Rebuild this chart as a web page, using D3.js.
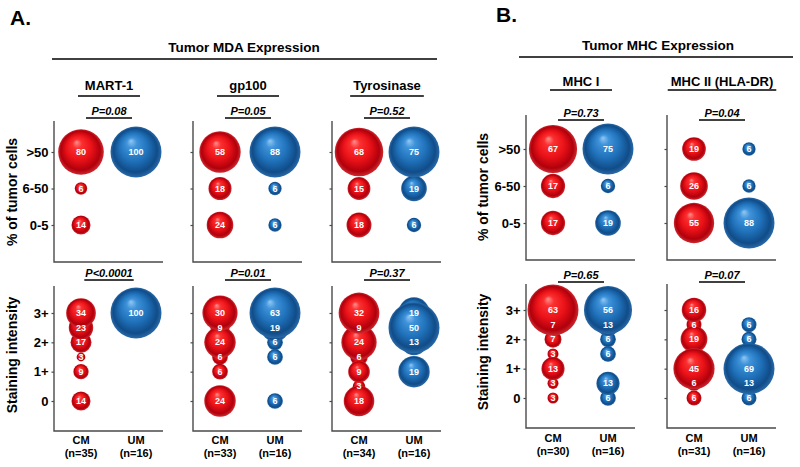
<!DOCTYPE html>
<html><head><meta charset="utf-8">
<script src="https://cdn.jsdelivr.net/npm/d3@7"></script>
<style>body{margin:0;background:#fff}svg{display:block}text{font-family:Arial,"Liberation Sans",Helvetica,sans-serif}</style>
</head><body><svg id="c" width="800" height="467"></svg>
<script>
// ---------------- DATA ----------------
const groups = ["CM", "UM"];
const pctLevels = [">50", "6-50", "0-5"];
const intensityLevels = [3, 2.5, 2, 1.5, 1, 0.5, 0];
const intensityTickValues = [3, 2, 1, 0];
const intensityTickLabels = ["3+", "2+", "1+", "0"];
const markers = ["MART-1", "gp100", "Tyrosinase", "MHC I", "MHC II (HLA-DR)"];
const markerSection = ["A", "A", "A", "B", "B"];
const sectionTitles = ["Tumor MDA Expression", "Tumor MHC Expression"];
const nCM = [35, 33, 34, 30, 31];
const nUM = [16, 16, 16, 16, 16];
const pTop = ["P=0.08", "P=0.05", "P=0.52", "P=0.73", "P=0.04"];
const pBottom = ["P<0.0001", "P=0.01", "P=0.37", "P=0.65", "P=0.07"];
// % of tumor cells (>50, 6-50, 0-5)
const pctCM = [[80, 6, 14], [58, 18, 24], [68, 15, 18], [67, 17, 17], [19, 26, 55]];
const pctUM = [[100, null, null], [88, 6, 6], [75, 19, 6], [75, 6, 19], [6, 6, 88]];
// staining intensity at levels 3, 2.5, 2, 1.5, 1, 0.5, 0
const intCM = [
  [34, 23, 17, 3, 9, null, 14],
  [30, 9, 24, 6, 6, null, 24],
  [32, 9, 24, 6, 9, 3, 18],
  [63, 7, 7, 3, 13, 3, 3],
  [16, 6, 19, null, 45, 6, 6]
];
const intUM = [
  [100, null, null, null, null, null, null],
  [63, 19, 6, 6, null, null, 6],
  [19, 50, 13, null, 19, null, null],
  [56, 13, 6, 6, null, 13, 6],
  [null, 6, 6, null, 69, 13, 6]
];

// ---------------- LAYOUT ----------------
const panelX = [54, 193, 332, 526, 667];
const panelW = 109;
const geom = {
  A: {sub: 90, subLine: 96, pT: 115, pTL: 118, topY: [152, 225], topAxis: [121, 262],
      pB: 277, pBL: 280, botY: [401, 313], botAxis: [286, 431], cmY: 444, nY: 457,
      titleX: 17, yt1: 192, yt2: 355},
  B: {sub: 86, subLine: 90, pT: 117, pTL: 120, topY: [149, 223], topAxis: [115, 260],
      pB: 279, pBL: 282, botY: [398, 310], botAxis: [284, 428], cmY: 442, nY: 455,
      titleX: 488, yt1: 187, yt2: 352}
};
const maxR = 25.5;
const axisColor = "#4a4a4a";

const svg = d3.select("#c");
svg.append("rect").attr("width", 800).attr("height", 467).attr("fill", "#fff");

// gradients
const defs = svg.append("defs");
function grad(id, stops) {
  const g = defs.append("radialGradient").attr("id", id)
    .attr("cx", "50%").attr("cy", "50%").attr("r", "50%")
    .attr("fx", "40%").attr("fy", "28%");
  stops.forEach(s => g.append("stop").attr("offset", s[0]).attr("stop-color", s[1]));
}
grad("gCM", [["0%", "#ff9090"], ["20%", "#fb3030"], ["55%", "#ea1218"], ["86%", "#b0000c"], ["100%", "#cc2a30"]]);
grad("gUM", [["0%", "#92c8f4"], ["20%", "#3f93da"], ["55%", "#2072bb"], ["86%", "#104c88"], ["100%", "#2a6aa8"]]);

// Section headers
svg.append("text").attr("x", 10).attr("y", 25).attr("font-size", 21).attr("font-weight", "bold").text("A.");
svg.append("text").attr("x", 496).attr("y", 22).attr("font-size", 21).attr("font-weight", "bold").text("B.");
svg.append("text").attr("x", 244).attr("y", 52).attr("text-anchor", "middle").attr("font-size", 13.5).attr("font-weight", "bold").text(sectionTitles[0]);
svg.append("line").attr("x1", 52).attr("x2", 437).attr("y1", 59).attr("y2", 59).attr("stroke", "#000").attr("stroke-width", 1.6);
svg.append("text").attr("x", 658).attr("y", 50).attr("text-anchor", "middle").attr("font-size", 13.5).attr("font-weight", "bold").text(sectionTitles[1]);
svg.append("line").attr("x1", 519).attr("x2", 793).attr("y1", 57).attr("y2", 57).attr("stroke", "#000").attr("stroke-width", 1.6);

function underlinedText(x, y, lineY, txt, size, italic, minW, extra) {
  const t = svg.append("text").attr("x", x).attr("y", y).attr("text-anchor", "middle")
    .attr("font-size", size).attr("font-weight", "bold")
    .attr("font-style", italic ? "italic" : "normal").text(txt);
  const w = Math.max(minW, t.node().getComputedTextLength() + extra);
  svg.append("line").attr("x1", x - w / 2).attr("x2", x + w / 2).attr("y1", lineY).attr("y2", lineY)
    .attr("stroke", "#000").attr("stroke-width", 1.6);
}

function bubbles(g, items, rScale) {
  const sorted = items.filter(d => d.v != null && d.v > 0).sort((a, b) => a.v - b.v);
  g.selectAll("circle.b").data(sorted).join("circle").attr("class", "b")
    .attr("cx", d => d.x).attr("cy", d => d.y).attr("r", d => rScale(d.v))
    .attr("fill", d => d.g === "CM" ? "url(#gCM)" : "url(#gUM)");
  g.selectAll("text.b").data(sorted).join("text").attr("class", "b")
    .attr("x", d => d.x).attr("y", d => d.y).attr("dy", "0.35em")
    .attr("text-anchor", "middle").attr("font-size", 9).attr("font-weight", "bold")
    .attr("fill", "#fff").text(d => d.v);
}

function styleAxis(ax, showLabels) {
  ax.select(".domain").remove();
  ax.selectAll("line").attr("stroke", axisColor).attr("stroke-width", 1.2);
  if (!showLabels) ax.selectAll("text").remove();
  else ax.selectAll("text").attr("font-size", 13).attr("font-weight", "bold")
    .attr("fill", "#000").style("font-family", "Arial, 'Liberation Sans', sans-serif");
}

markers.forEach((m, i) => {
  const sec = markerSection[i];
  const G = geom[sec];
  const x0 = panelX[i];
  const cx = x0 + 55;
  const first = (i === 0 || i === 3);
  const x = d3.scalePoint().domain(groups).range([x0 + 27, x0 + 82]);

  underlinedText(cx, G.sub, G.subLine, m, 13, false, 62, 6);
  underlinedText(cx, G.pT, G.pTL, pTop[i], 11, true, 46, 4);
  underlinedText(cx, G.pB, G.pBL, pBottom[i], 11, true, 46, 2);

  // ---- top panel: % of tumor cells
  const yTop = d3.scalePoint().domain(pctLevels).range(G.topY);
  const gT = svg.append("g");
  const axT = gT.append("g").attr("transform", `translate(${x0},0)`)
    .call(d3.axisLeft(yTop).tickSize(2.5).tickPadding(3));
  styleAxis(axT, first);
  gT.append("path").attr("d", `M${x0},${G.topAxis[0]}V${G.topAxis[1]}H${x0 + panelW}`)
    .attr("fill", "none").attr("stroke", axisColor).attr("stroke-width", 1.4);
  const topItems = [];
  pctLevels.forEach((lv, j) => {
    topItems.push({g: "CM", v: pctCM[i][j], x: x("CM"), y: yTop(lv)});
    topItems.push({g: "UM", v: pctUM[i][j], x: x("UM"), y: yTop(lv)});
  });
  const maxT = d3.max(topItems, d => d.v);
  bubbles(gT, topItems, d3.scaleSqrt().domain([0, maxT]).range([0, maxR]));

  // ---- bottom panel: staining intensity
  const yBot = d3.scaleLinear().domain([0, 3]).range(G.botY);
  const gB = svg.append("g");
  const axB = gB.append("g").attr("transform", `translate(${x0},0)`)
    .call(d3.axisLeft(yBot).tickValues(intensityTickValues)
      .tickFormat((d, k) => intensityTickLabels[k]).tickSize(2.5).tickPadding(3));
  styleAxis(axB, first);
  gB.append("path").attr("d", `M${x0},${G.botAxis[0]}V${G.botAxis[1]}H${x0 + panelW}`)
    .attr("fill", "none").attr("stroke", axisColor).attr("stroke-width", 1.4);
  const botItems = [];
  intensityLevels.forEach((lv, j) => {
    botItems.push({g: "CM", v: intCM[i][j], x: x("CM"), y: yBot(lv)});
    botItems.push({g: "UM", v: intUM[i][j], x: x("UM"), y: yBot(lv)});
  });
  const maxB = d3.max(botItems, d => d.v);
  bubbles(gB, botItems, d3.scaleSqrt().domain([0, maxB]).range([0, maxR]));

  // x labels
  groups.forEach(gr => {
    svg.append("text").attr("x", x(gr)).attr("y", G.cmY).attr("text-anchor", "middle")
      .attr("font-size", 11).attr("font-weight", "bold").text(gr);
    svg.append("text").attr("x", x(gr)).attr("y", G.nY).attr("text-anchor", "middle")
      .attr("font-size", 11).attr("font-weight", "bold")
      .text(`(n=${gr === "CM" ? nCM[i] : nUM[i]})`);
  });

  // y titles for first panel of each section
  if (first) {
    svg.append("text").attr("transform", `translate(${G.titleX},${G.yt1}) rotate(-90)`)
      .attr("text-anchor", "middle").attr("font-size", 14).attr("font-weight", "bold").text("% of tumor cells");
    svg.append("text").attr("transform", `translate(${G.titleX},${G.yt2}) rotate(-90)`)
      .attr("text-anchor", "middle").attr("font-size", 14).attr("font-weight", "bold").text("Staining intensity");
  }
});
</script></body></html>
